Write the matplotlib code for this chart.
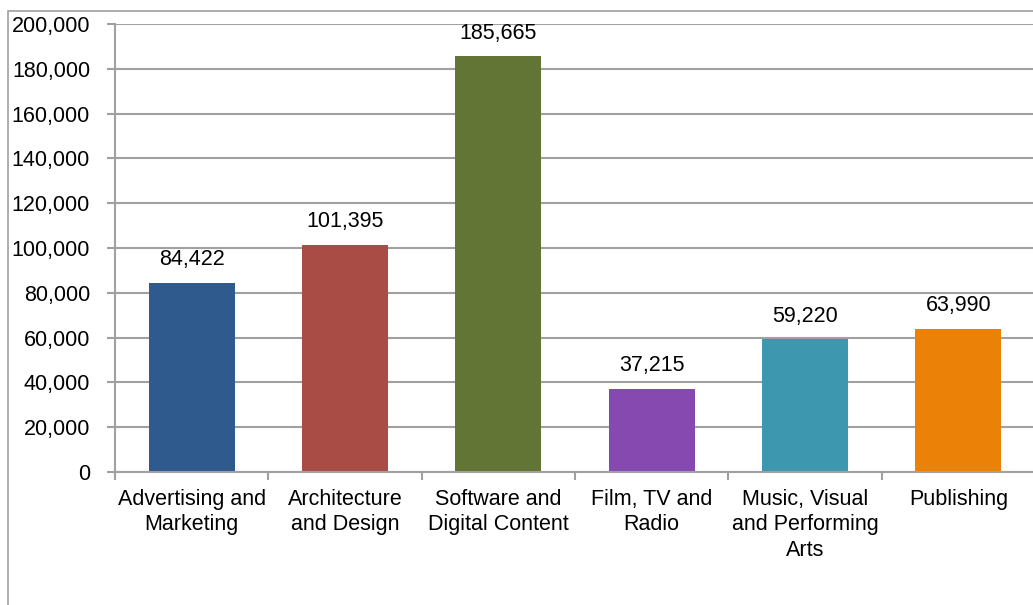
import matplotlib.pyplot as plt
from matplotlib.patches import Rectangle

# Creative industry employment by sector
categories = ['Advertising and\nMarketing', 'Architecture\nand Design', 'Software and\nDigital Content',
              'Film, TV and\nRadio', 'Music, Visual\nand Performing\nArts', 'Publishing']
values = [84422, 101395, 185665, 37215, 59220, 63990]
colors = ['#2E5A8E', '#A84C45', '#637534', '#8549AF', '#3D97AE', '#EC8107']

plt.rcParams['font.family'] = ['Liberation Sans', 'DejaVu Sans']
plt.rcParams['font.size'] = 15.5

fig = plt.figure(figsize=(10.33, 6.05), dpi=100)
W, H = 1033, 605

# chart frame (runs off the right and bottom edges)
fig.patches.append(Rectangle((8 / W, -0.1), 1.2, 1 - 11 / H + 0.1, transform=fig.transFigure,
                             fill=False, edgecolor='#A0A0A0', linewidth=1.2))

ax = fig.add_axes([115 / W, 133 / H, 920 / W, 448 / H])
x = range(len(categories))
bars = ax.bar(x, values, width=0.56, color=colors, zorder=3)

ax.set_xlim(-0.5, len(categories) - 0.5)
ax.set_ylim(0, 200000)
ax.set_yticks(range(0, 200001, 20000))
ax.yaxis.set_major_formatter(plt.FuncFormatter(lambda v, p: f'{int(v):,}'))
ax.grid(axis='y', color='#A0A0A0', linewidth=1.5, zorder=0)

for s in ['top', 'right']:
    ax.spines[s].set_visible(False)
for s in ['left', 'bottom']:
    ax.spines[s].set_color('#A0A0A0')
    ax.spines[s].set_linewidth(1.5)
    ax.spines[s].set_zorder(4)

ax.set_xticks(x)
ax.set_xticklabels(categories, linespacing=1.3)
ax.set_xticks([i + 0.5 for i in range(-1, len(categories))], minor=True)
ax.tick_params(axis='x', which='major', length=0, pad=12)
ax.tick_params(axis='x', which='minor', length=6, color='#A0A0A0', width=1.5)
ax.tick_params(axis='y', length=6, color='#A0A0A0', width=1.5, pad=12)

for b, v in zip(bars, values):
    ax.annotate(f'{v:,}', (b.get_x() + b.get_width() / 2, v), xytext=(0, 9),
                textcoords='offset points', ha='center', va='bottom')

fig.savefig('out.png', dpi=100)
